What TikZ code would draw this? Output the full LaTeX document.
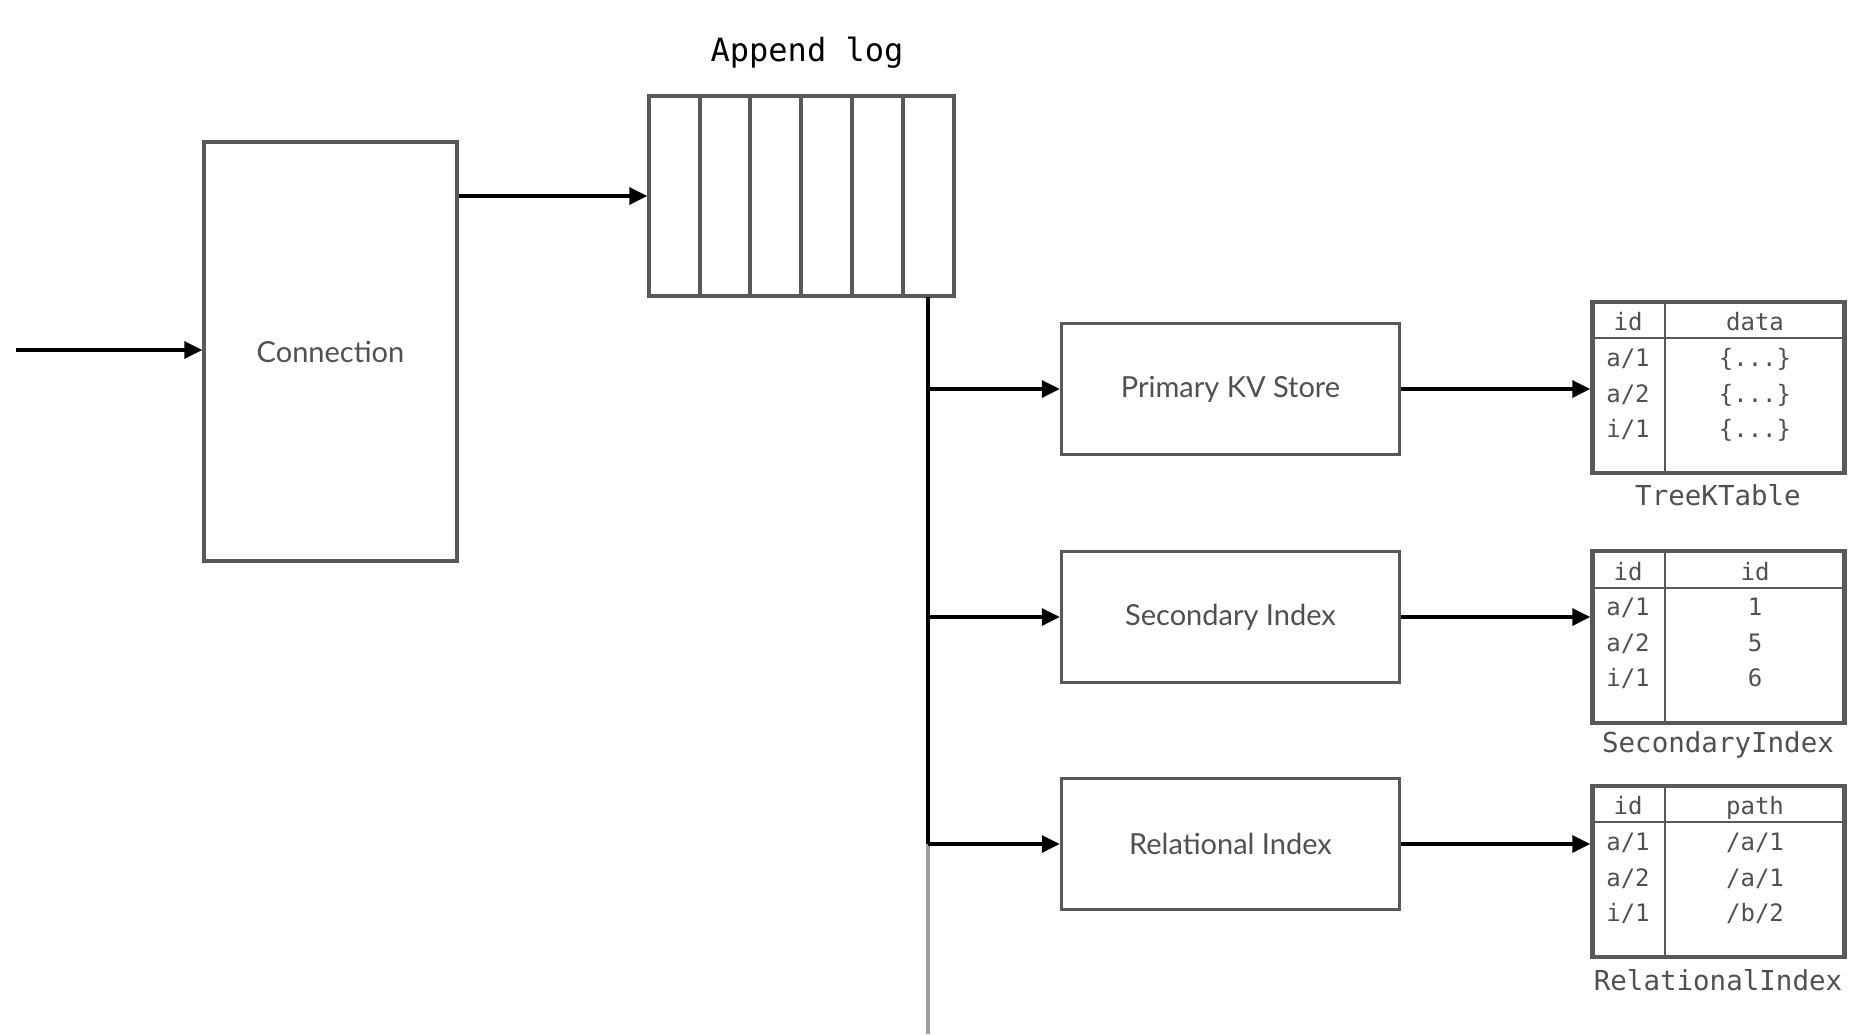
\documentclass[tikz,border=0pt]{standalone}
\usepackage{fontspec}
\setmainfont{Lato}
\newfontfamily\monof{DejaVu Sans Mono}
\usetikzlibrary{arrows.meta}
\definecolor{boxgray}{HTML}{595959}
\definecolor{txtgray}{HTML}{505050}
\definecolor{trunkgray}{HTML}{A0A0A0}
\begin{document}
\begin{tikzpicture}[x=1pt,y=-1pt,
  conn/.style={draw=black,line width=3.5pt,-{Triangle[length=18pt,width=17pt]}},
  procbox/.style={draw=boxgray,line width=3.5pt,fill=white,minimum width=338pt,minimum height=131pt,inner sep=0pt,text=txtgray,font=\fontsize{29}{34}\selectfont},
  tblbox/.style={draw=boxgray,line width=4.5pt,minimum width=252pt,inner sep=0pt},
  tblline/.style={draw=boxgray,line width=1.5pt},
  celltxt/.style={text=txtgray,font=\monof\fontsize{24}{28}\selectfont,inner sep=0pt,anchor=base},
  tbllabel/.style={text=txtgray,font=\monof\fontsize{27.5}{32}\selectfont,inner sep=0pt},
  logline/.style={draw=boxgray,line width=3.5pt}
]
\useasboundingbox (0,0) rectangle (1874,1034);

% input
\coordinate (in) at (16,350);
\node[draw=boxgray,line width=3.5pt,minimum width=253pt,minimum height=419pt,inner sep=0pt,text=txtgray,font=\fontsize{29}{34}\selectfont] (connection) at (330.5,351.5) {Connection};
\draw[conn] (in) -- (in -| connection.west);

% append log
\node[font=\monof\fontsize{32}{38}\selectfont,text=black] (logtitle) at (807,53) {Append log};
\node[draw=boxgray,line width=3.5pt,minimum width=305pt,minimum height=200pt,inner sep=0pt] (log) at (801.5,196) {};
\foreach \xx in {700,750,801,852,903} {
  \draw[logline] (\xx,96) -- (\xx,296);
}
\draw[conn] (connection.east |- 0,196) -- (log.west);

% processing boxes
\node[procbox] (pkv) at (1230.5,389) {Primary KV Store};
\node[procbox] (sec) at (1230.5,617) {Secondary Index};
\node[procbox] (rel) at (1230.5,844) {Relational Index};

% trunk
\coordinate (ttop) at (928,297);
\coordinate (tend) at (928,844);
\coordinate (tbot) at (928,1034);
\draw[trunkgray,line width=3.5pt] (tend) -- (tbot);
\draw[black,line width=3.5pt] (ttop) -- (tend);
\draw[conn] (ttop |- pkv.west) -- (pkv.west);
\draw[conn] (ttop |- sec.west) -- (sec.west);
\draw[conn] (ttop |- rel.west) -- (rel.west);

% table 1
\node[tblbox,minimum height=171pt] (t1) at (1718.5,387.5) {};
\draw[tblline] (t1.west |- 0,338) -- (t1.east |- 0,338);
\draw[tblline] (1665,302) -- (1665,473);
\node[celltxt] (t1h1) at (1628,330) {id};
\node[celltxt] (t1h2) at (1755,330) {data};
\node[celltxt] (t1a) at (1628,366) {a/1};
\node[celltxt] (t1b) at (1628,402) {a/2};
\node[celltxt] (t1c) at (1628,437) {i/1};
\node[celltxt] (t1d) at (1755,366) {\{...\}};
\node[celltxt] (t1e) at (1755,402) {\{...\}};
\node[celltxt] (t1f) at (1755,437) {\{...\}};
\node[tbllabel] (t1l) at (1718,495) {TreeKTable};
\draw[conn] (pkv.east) -- (t1.west |- pkv.east);

% table 2
\node[tblbox,minimum height=172pt] (t2) at (1718.5,637) {};
\draw[tblline] (t2.west |- 0,588) -- (t2.east |- 0,588);
\draw[tblline] (1665,551) -- (1665,723);
\node[celltxt] (t2h1) at (1628,580) {id};
\node[celltxt] (t2h2) at (1755,580) {id};
\node[celltxt] (t2a) at (1628,615) {a/1};
\node[celltxt] (t2b) at (1628,651) {a/2};
\node[celltxt] (t2c) at (1628,686) {i/1};
\node[celltxt] (t2d) at (1755,615) {1};
\node[celltxt] (t2e) at (1755,651) {5};
\node[celltxt] (t2f) at (1755,686) {6};
\node[tbllabel] (t2l) at (1718,745) {SecondaryIndex};
\draw[conn] (sec.east) -- (t2.west |- sec.east);

% table 3
\node[tblbox,minimum height=171pt] (t3) at (1718.5,871.5) {};
\draw[tblline] (t3.west |- 0,822) -- (t3.east |- 0,822);
\draw[tblline] (1665,786) -- (1665,957);
\node[celltxt] (t3h1) at (1628,814) {id};
\node[celltxt] (t3h2) at (1755,814) {path};
\node[celltxt] (t3a) at (1628,850) {a/1};
\node[celltxt] (t3b) at (1628,886) {a/2};
\node[celltxt] (t3c) at (1628,921) {i/1};
\node[celltxt] (t3d) at (1755,850) {/a/1};
\node[celltxt] (t3e) at (1755,886) {/a/1};
\node[celltxt] (t3f) at (1755,921) {/b/2};
\node[tbllabel] (t3l) at (1718,980) {RelationalIndex};
\draw[conn] (rel.east) -- (t3.west |- rel.east);
\end{tikzpicture}
\end{document}
